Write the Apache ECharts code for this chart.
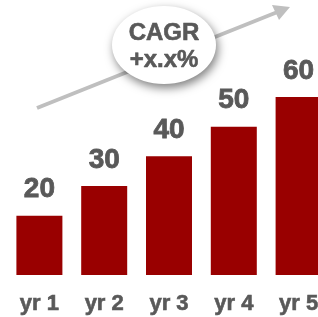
<!DOCTYPE html>
<html>
<head>
<meta charset="utf-8">
<script src="https://cdn.jsdelivr.net/npm/echarts@6/dist/echarts.min.js"></script>
<style>
  html, body { margin: 0; padding: 0; background: #fff; }
  #chart { width: 318px; height: 317px; }
</style>
</head>
<body>
<div id="chart"></div>
<script>
const years = ['yr 1', 'yr 2', 'yr 3', 'yr 4', 'yr 5'];
const values = [20, 30, 40, 50, 60];
const cagrText = 'CAGR\n+x.x%';

const font = '"Liberation Sans", Arial, sans-serif';
const grey = '#595959';

const chart = echarts.init(document.getElementById('chart'));

chart.setOption({
  animation: false,
  grid: { left: 7, width: 324, top: 97, height: 178, outerBoundsMode: 'none', containLabel: false },
  xAxis: {
    type: 'category',
    data: years,
    axisLine: { show: false },
    axisTick: { show: false },
    axisLabel: {
      color: grey,
      fontFamily: font,
      fontWeight: 'bold',
      fontSize: 22,
      margin: 18,
      textBorderColor: grey,
      textBorderWidth: 0.6
    }
  },
  yAxis: {
    type: 'value',
    min: 0,
    max: 60,
    show: false
  },
  series: [
    {
      type: 'bar',
      data: values,
      barWidth: 46,
      itemStyle: { color: '#990000' },
      label: {
        show: true,
        position: 'top',
        distance: 12,
        color: grey,
        fontFamily: font,
        fontWeight: 'bold',
        fontSize: 28,
        textBorderColor: grey,
        textBorderWidth: 0.8
      }
    }
  ],
  graphic: [
    {
      type: 'line',
      z: 10,
      shape: { x1: 37, y1: 108, x2: 280, y2: 11 },
      style: { stroke: '#bfbfbf', lineWidth: 4 }
    },
    {
      type: 'polygon',
      z: 10,
      shape: { points: [[290, 7], [272, 5], [279, 20]] },
      style: { fill: '#bfbfbf' }
    },
    {
      type: 'ellipse',
      z: 11,
      shape: { cx: 164, cy: 45, rx: 52, ry: 39 },
      style: {
        fill: '#ffffff',
        shadowBlur: 10,
        shadowOffsetX: 2,
        shadowOffsetY: 4,
        shadowColor: 'rgba(0,0,0,0.5)'
      }
    },
    {
      type: 'text',
      z: 12,
      x: 164,
      y: 47,
      style: {
        text: cagrText,
        align: 'center',
        verticalAlign: 'middle',
        fill: grey,
        stroke: grey,
        lineWidth: 0.6,
        font: 'bold 24px ' + font,
        lineHeight: 27
      }
    }
  ]
});
</script>
</body>
</html>
